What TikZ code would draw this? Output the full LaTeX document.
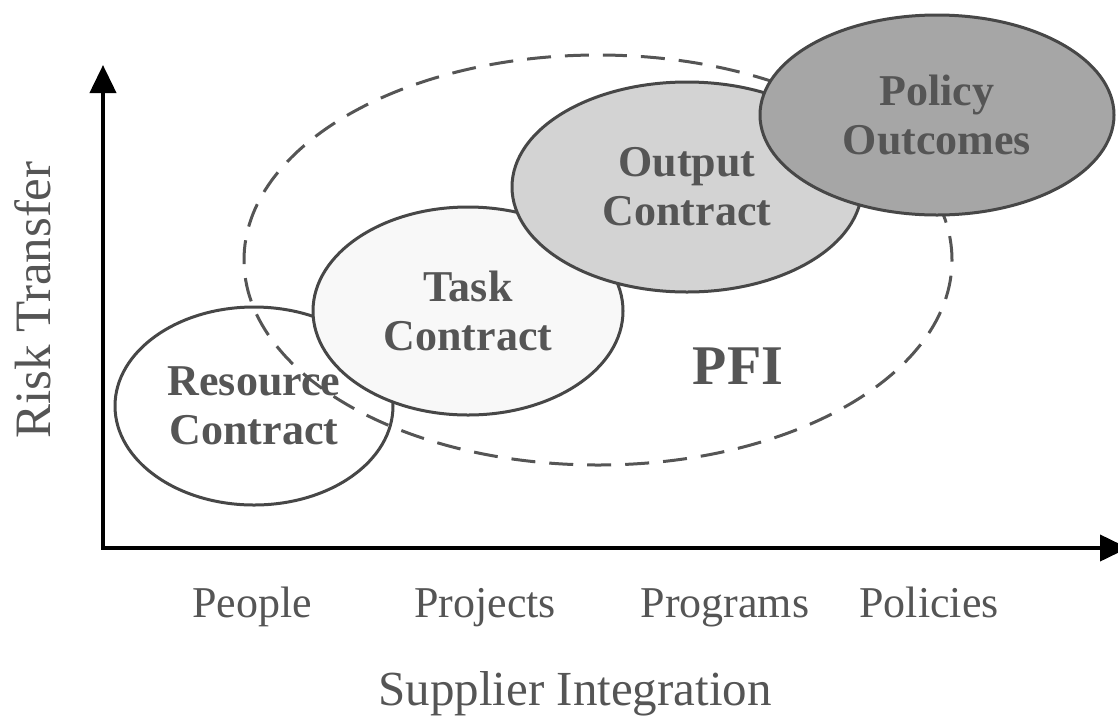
\documentclass[tikz,border=0pt]{standalone}
\usepackage{fontspec}
\setmainfont{Liberation Serif}
\usetikzlibrary{shapes.geometric,arrows.meta}
\definecolor{inkgray}{HTML}{555555}
\definecolor{edgegray}{HTML}{474747}
\definecolor{taskfill}{HTML}{F8F8F8}
\definecolor{outputfill}{HTML}{D3D3D3}
\definecolor{policyfill}{HTML}{A6A6A6}
\begin{document}
\begin{tikzpicture}[
    x=0.5pt, y=-0.5pt,
    contract/.style={ellipse, draw=edgegray, line width=1.5pt, inner sep=0pt, align=center, text=inkgray, font=\bfseries\fontsize{22}{24.5}\selectfont},
    pfiring/.style={ellipse, draw=inkgray, line width=1.5pt, dash pattern=on 12pt off 7pt, inner sep=0pt},
    axislabel/.style={text=inkgray, anchor=base, font=\fontsize{22}{26}\selectfont},
    axis/.style={{Triangle[width=13pt,length=14pt]}-{Triangle[width=13pt,length=14pt]}, line width=2pt}
]
    \useasboundingbox (0,0) rectangle (1118,724);

    \node[pfiring, minimum width=354pt, minimum height=205pt] (pfi) at (598,260) {};
    \node[contract, minimum width=139pt, minimum height=99pt] (resource) at (254,406) {Resource\\Contract};
    \node[contract, fill=taskfill, minimum width=155pt, minimum height=104pt] (task) at (468,311) {Task\\Contract};
    \node[contract, fill=outputfill, minimum width=175pt, minimum height=105pt] (output) at (687,187) {Output\\Contract};
    \node[contract, fill=policyfill, minimum width=177pt, minimum height=100pt] (policy) at (937,115) {Policy\\Outcomes};
    \node[text=inkgray, font=\bfseries\fontsize{28}{32}\selectfont] (pfilabel) at (738,366) {PFI};

    \coordinate (ytop) at (103,65);
    \coordinate (origin) at (103,548);
    \coordinate (xend) at (1128,548);
    \draw[axis] (ytop) -- (origin) -- (xend);

    \node[axislabel] (people) at (252,617) {People};
    \node[axislabel] (projects) at (485,617) {Projects};
    \node[axislabel] (programs) at (725,617) {Programs};
    \node[axislabel] (policies) at (929,617) {Policies};
    \node[axislabel, font=\fontsize{24.5}{28}\selectfont] (xtitle) at (575,705) {Supplier Integration};
    \node[axislabel, rotate=90, font=\fontsize{25.5}{28}\selectfont] (ytitle) at (50,300) {Risk Transfer};
\end{tikzpicture}
\end{document}
